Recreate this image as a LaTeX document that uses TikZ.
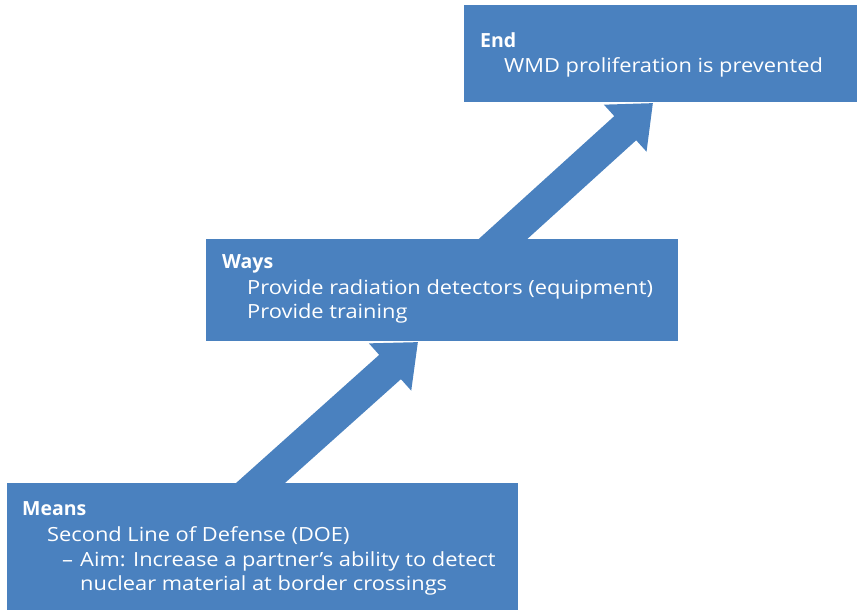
\documentclass[tikz,border=0pt]{standalone}
\usepackage{fontspec}
\setmainfont{Open Sans}
\newfontfamily\widefont{Open Sans}[FakeStretch=1.12]
\usetikzlibrary{arrows.meta,calc,backgrounds}
\definecolor{boxblue}{RGB}{74,129,191}
\begin{document}
\begin{tikzpicture}[x=1pt,y=-1pt,
  panel/.style={fill=boxblue, draw=none, anchor=north west, inner sep=0pt, outer sep=0pt},
  entry/.style={anchor=base west, inner sep=0pt, text=white, font=\widefont\fontsize{19.5}{24}\selectfont},
  heading/.style={entry, font=\fontsize{19.5}{24}\selectfont\bfseries},
  flow/.style={draw=boxblue, line width=32.6pt, line cap=butt,
    -{Triangle[length=37.5pt,width=61pt]}}]
\useasboundingbox (0,0) rectangle (857,613);

% the three panels
\node[panel, minimum width=393pt, minimum height=97pt] (endbox) at (464,5) {};
\node[panel, minimum width=472pt, minimum height=102pt] (waysbox) at (206,239) {};
\node[panel, minimum width=511pt, minimum height=127pt] (meansbox) at (7,483) {};

% End
\node[heading] (endhead) at ($(endbox.north west)+(16,42)$) {End};
\node[entry] (endline) at ($(endbox.north west)+(40,67)$) {WMD proliferation is prevented};

% Ways
\node[heading] (wayshead) at ($(waysbox.north west)+(16,29)$) {Ways};
\node[entry] (waysone) at ($(waysbox.north west)+(41,55)$) {Provide radiation detectors (equipment)};
\node[entry] (waystwo) at ($(waysbox.north west)+(41,79)$) {Provide training};

% Means
\node[heading] (meanshead) at ($(meansbox.north west)+(15,32)$) {Means};
\node[entry] (meansone) at ($(meansbox.north west)+(40,58)$) {Second Line of Defense (DOE)};
\node[entry] (meansdash) at ($(meansbox.north west)+(55,83)$) {–};
\node[entry] (meanstwo) at ($(meansbox.north west)+(73,83)$) {Aim: Increase a partner’s ability to detect};
\node[entry] (meansthree) at ($(meansbox.north west)+(73,107)$) {nuclear material at border crossings};

% arrow ends: shafts start inside the lower panel, tips just under the upper one
\coordinate (lowbase) at ($(meansbox.north west)+(253.5,0)$);
\coordinate (lowtip) at ($(waysbox.south west)+(212,1)$);
\coordinate (highbase) at ($(waysbox.north west)+(297,0)$);
\coordinate (hightip) at ($(endbox.south west)+(189,1)$);

\begin{pgfonlayer}{background}
  \draw[flow] ($(lowtip)!1.2!(lowbase)$) -- (lowtip);
  \draw[flow] ($(hightip)!1.2!(highbase)$) -- (hightip);
\end{pgfonlayer}
\end{tikzpicture}
\end{document}
